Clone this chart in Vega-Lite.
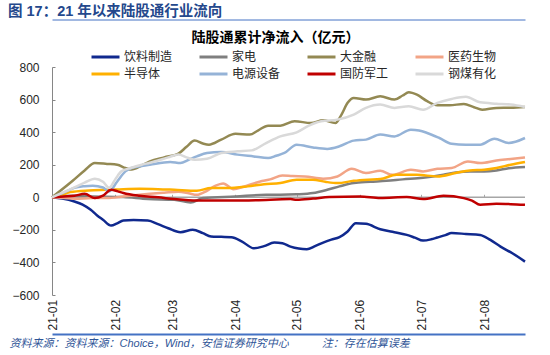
{
  "$schema": "https://vega.github.io/schema/vega-lite/v6.json",
  "width": 473,
  "height": 228,
  "autosize": {"type": "none"},
  "padding": {"left": 52, "top": 67, "right": 25, "bottom": 60},
  "background": "white",
  "title": {
    "text": "图 17：21 年以来陆股通行业流向",
    "anchor": "start",
    "frame": "group",
    "dx": -44,
    "offset": 0,
    "font": "Liberation Sans, Noto Sans CJK SC",
    "fontSize": 14.5,
    "fontWeight": "bold",
    "color": "#24488C"
  },
  "config": {
    "font": "Liberation Sans, Noto Sans CJK SC",
    "view": {"stroke": null},
    "axis": {"grid": false, "labelColor": "#262626", "labelFont": "Liberation Sans, Noto Sans CJK SC", "titleFont": "Liberation Sans, Noto Sans CJK SC"}
  },
  "datasets": {
    "zero": [{"d": "2021-01-01", "d2": "2021-08-21", "v": 0}],
    "flows": [
      {"s": "饮料制造", "d": "2021-01-01", "v": 0},
      {"s": "饮料制造", "d": "2021-01-06", "v": -8},
      {"s": "饮料制造", "d": "2021-01-12", "v": -26},
      {"s": "饮料制造", "d": "2021-01-16", "v": -45},
      {"s": "饮料制造", "d": "2021-01-20", "v": -77},
      {"s": "饮料制造", "d": "2021-01-23", "v": -110},
      {"s": "饮料制造", "d": "2021-01-26", "v": -138},
      {"s": "饮料制造", "d": "2021-01-30", "v": -174},
      {"s": "饮料制造", "d": "2021-02-02", "v": -160},
      {"s": "饮料制造", "d": "2021-02-05", "v": -143},
      {"s": "饮料制造", "d": "2021-02-10", "v": -140},
      {"s": "饮料制造", "d": "2021-02-17", "v": -143},
      {"s": "饮料制造", "d": "2021-02-22", "v": -165},
      {"s": "饮料制造", "d": "2021-02-27", "v": -190},
      {"s": "饮料制造", "d": "2021-03-05", "v": -214},
      {"s": "饮料制造", "d": "2021-03-11", "v": -200},
      {"s": "饮料制造", "d": "2021-03-16", "v": -220},
      {"s": "饮料制造", "d": "2021-03-20", "v": -241},
      {"s": "饮料制造", "d": "2021-03-25", "v": -243},
      {"s": "饮料制造", "d": "2021-03-30", "v": -245},
      {"s": "饮料制造", "d": "2021-04-04", "v": -270},
      {"s": "饮料制造", "d": "2021-04-10", "v": -313},
      {"s": "饮料制造", "d": "2021-04-15", "v": -300},
      {"s": "饮料制造", "d": "2021-04-20", "v": -278},
      {"s": "饮料制造", "d": "2021-04-24", "v": -282},
      {"s": "饮料制造", "d": "2021-04-28", "v": -303},
      {"s": "饮料制造", "d": "2021-05-02", "v": -315},
      {"s": "饮料制造", "d": "2021-05-06", "v": -319},
      {"s": "饮料制造", "d": "2021-05-10", "v": -300},
      {"s": "饮料制造", "d": "2021-05-14", "v": -278},
      {"s": "饮料制造", "d": "2021-05-18", "v": -260},
      {"s": "饮料制造", "d": "2021-05-22", "v": -245},
      {"s": "饮料制造", "d": "2021-05-26", "v": -210},
      {"s": "饮料制造", "d": "2021-05-30", "v": -159},
      {"s": "饮料制造", "d": "2021-06-04", "v": -163},
      {"s": "饮料制造", "d": "2021-06-11", "v": -196},
      {"s": "饮料制造", "d": "2021-06-17", "v": -212},
      {"s": "饮料制造", "d": "2021-06-24", "v": -231},
      {"s": "饮料制造", "d": "2021-06-28", "v": -248},
      {"s": "饮料制造", "d": "2021-07-02", "v": -266},
      {"s": "饮料制造", "d": "2021-07-06", "v": -258},
      {"s": "饮料制造", "d": "2021-07-09", "v": -247},
      {"s": "饮料制造", "d": "2021-07-13", "v": -232},
      {"s": "饮料制造", "d": "2021-07-16", "v": -220},
      {"s": "饮料制造", "d": "2021-07-23", "v": -225},
      {"s": "饮料制造", "d": "2021-07-30", "v": -231},
      {"s": "饮料制造", "d": "2021-08-04", "v": -262},
      {"s": "饮料制造", "d": "2021-08-09", "v": -303},
      {"s": "饮料制造", "d": "2021-08-15", "v": -345},
      {"s": "饮料制造", "d": "2021-08-21", "v": -395},

      {"s": "家电", "d": "2021-01-01", "v": 0},
      {"s": "家电", "d": "2021-01-11", "v": 9},
      {"s": "家电", "d": "2021-01-21", "v": 5},
      {"s": "家电", "d": "2021-02-05", "v": 1},
      {"s": "家电", "d": "2021-02-17", "v": -11},
      {"s": "家电", "d": "2021-03-02", "v": -15},
      {"s": "家电", "d": "2021-03-10", "v": -32},
      {"s": "家电", "d": "2021-03-16", "v": -5},
      {"s": "家电", "d": "2021-04-01", "v": 5},
      {"s": "家电", "d": "2021-04-16", "v": 15},
      {"s": "家电", "d": "2021-04-23", "v": 15},
      {"s": "家电", "d": "2021-05-01", "v": 18},
      {"s": "家电", "d": "2021-05-09", "v": 26},
      {"s": "家电", "d": "2021-05-16", "v": 46},
      {"s": "家电", "d": "2021-05-22", "v": 67},
      {"s": "家电", "d": "2021-05-29", "v": 88},
      {"s": "家电", "d": "2021-06-06", "v": 95},
      {"s": "家电", "d": "2021-06-14", "v": 101},
      {"s": "家电", "d": "2021-06-22", "v": 110},
      {"s": "家电", "d": "2021-07-02", "v": 120},
      {"s": "家电", "d": "2021-07-12", "v": 138},
      {"s": "家电", "d": "2021-07-18", "v": 152},
      {"s": "家电", "d": "2021-07-25", "v": 159},
      {"s": "家电", "d": "2021-08-01", "v": 159},
      {"s": "家电", "d": "2021-08-07", "v": 165},
      {"s": "家电", "d": "2021-08-13", "v": 178},
      {"s": "家电", "d": "2021-08-21", "v": 186},

      {"s": "大金融", "d": "2021-01-01", "v": 0},
      {"s": "大金融", "d": "2021-01-11", "v": 100},
      {"s": "大金融", "d": "2021-01-17", "v": 165},
      {"s": "大金融", "d": "2021-01-22", "v": 210},
      {"s": "大金融", "d": "2021-01-28", "v": 205},
      {"s": "大金融", "d": "2021-02-02", "v": 200},
      {"s": "大金融", "d": "2021-02-06", "v": 180},
      {"s": "大金融", "d": "2021-02-09", "v": 170},
      {"s": "大金融", "d": "2021-02-14", "v": 195},
      {"s": "大金融", "d": "2021-02-18", "v": 220},
      {"s": "大金融", "d": "2021-02-25", "v": 245},
      {"s": "大金融", "d": "2021-03-04", "v": 268},
      {"s": "大金融", "d": "2021-03-08", "v": 310},
      {"s": "大金融", "d": "2021-03-12", "v": 348},
      {"s": "大金融", "d": "2021-03-16", "v": 330},
      {"s": "大金融", "d": "2021-03-19", "v": 323},
      {"s": "大金融", "d": "2021-03-25", "v": 354},
      {"s": "大金融", "d": "2021-04-01", "v": 390},
      {"s": "大金融", "d": "2021-04-08", "v": 385},
      {"s": "大金融", "d": "2021-04-12", "v": 410},
      {"s": "大金融", "d": "2021-04-17", "v": 440},
      {"s": "大金融", "d": "2021-04-23", "v": 440},
      {"s": "大金融", "d": "2021-04-30", "v": 467},
      {"s": "大金融", "d": "2021-05-08", "v": 456},
      {"s": "大金融", "d": "2021-05-14", "v": 473},
      {"s": "大金融", "d": "2021-05-20", "v": 456},
      {"s": "大金融", "d": "2021-05-23", "v": 508},
      {"s": "大金融", "d": "2021-05-26", "v": 580},
      {"s": "大金融", "d": "2021-05-29", "v": 610},
      {"s": "大金融", "d": "2021-06-04", "v": 600},
      {"s": "大金融", "d": "2021-06-11", "v": 620},
      {"s": "大金融", "d": "2021-06-18", "v": 600},
      {"s": "大金融", "d": "2021-06-22", "v": 625},
      {"s": "大金融", "d": "2021-06-25", "v": 645},
      {"s": "大金融", "d": "2021-06-29", "v": 630},
      {"s": "大金融", "d": "2021-07-04", "v": 590},
      {"s": "大金融", "d": "2021-07-09", "v": 565},
      {"s": "大金融", "d": "2021-07-15", "v": 565},
      {"s": "大金融", "d": "2021-07-22", "v": 573},
      {"s": "大金融", "d": "2021-07-27", "v": 553},
      {"s": "大金融", "d": "2021-07-31", "v": 538},
      {"s": "大金融", "d": "2021-08-07", "v": 549},
      {"s": "大金融", "d": "2021-08-14", "v": 550},
      {"s": "大金融", "d": "2021-08-21", "v": 555},

      {"s": "医药生物", "d": "2021-01-01", "v": 0},
      {"s": "医药生物", "d": "2021-01-07", "v": -5},
      {"s": "医药生物", "d": "2021-01-12", "v": -9},
      {"s": "医药生物", "d": "2021-01-21", "v": -5},
      {"s": "医药生物", "d": "2021-01-28", "v": -5},
      {"s": "医药生物", "d": "2021-02-05", "v": 5},
      {"s": "医药生物", "d": "2021-02-13", "v": 15},
      {"s": "医药生物", "d": "2021-02-18", "v": 21},
      {"s": "医药生物", "d": "2021-02-25", "v": 28},
      {"s": "医药生物", "d": "2021-03-04", "v": 34},
      {"s": "医药生物", "d": "2021-03-09", "v": 25},
      {"s": "医药生物", "d": "2021-03-13", "v": 15},
      {"s": "医药生物", "d": "2021-03-18", "v": 40},
      {"s": "医药生物", "d": "2021-03-22", "v": 70},
      {"s": "医药生物", "d": "2021-03-26", "v": 85},
      {"s": "医药生物", "d": "2021-03-31", "v": 50},
      {"s": "医药生物", "d": "2021-04-05", "v": 65},
      {"s": "医药生物", "d": "2021-04-10", "v": 85},
      {"s": "医药生物", "d": "2021-04-14", "v": 100},
      {"s": "医药生物", "d": "2021-04-18", "v": 110},
      {"s": "医药生物", "d": "2021-04-24", "v": 134},
      {"s": "医药生物", "d": "2021-04-29", "v": 130},
      {"s": "医药生物", "d": "2021-05-05", "v": 128},
      {"s": "医药生物", "d": "2021-05-14", "v": 114},
      {"s": "医药生物", "d": "2021-05-21", "v": 128},
      {"s": "医药生物", "d": "2021-05-28", "v": 175},
      {"s": "医药生物", "d": "2021-06-04", "v": 149},
      {"s": "医药生物", "d": "2021-06-11", "v": 163},
      {"s": "医药生物", "d": "2021-06-17", "v": 138},
      {"s": "医药生物", "d": "2021-06-26", "v": 169},
      {"s": "医药生物", "d": "2021-07-02", "v": 159},
      {"s": "医药生物", "d": "2021-07-09", "v": 175},
      {"s": "医药生物", "d": "2021-07-16", "v": 180},
      {"s": "医药生物", "d": "2021-07-24", "v": 220},
      {"s": "医药生物", "d": "2021-07-30", "v": 210},
      {"s": "医药生物", "d": "2021-08-07", "v": 226},
      {"s": "医药生物", "d": "2021-08-14", "v": 235},
      {"s": "医药生物", "d": "2021-08-21", "v": 245},

      {"s": "半导体", "d": "2021-01-01", "v": 0},
      {"s": "半导体", "d": "2021-01-06", "v": 15},
      {"s": "半导体", "d": "2021-01-10", "v": 32},
      {"s": "半导体", "d": "2021-01-19", "v": 42},
      {"s": "半导体", "d": "2021-01-28", "v": 46},
      {"s": "半导体", "d": "2021-02-05", "v": 50},
      {"s": "半导体", "d": "2021-02-13", "v": 52},
      {"s": "半导体", "d": "2021-02-22", "v": 50},
      {"s": "半导体", "d": "2021-03-02", "v": 46},
      {"s": "半导体", "d": "2021-03-13", "v": 40},
      {"s": "半导体", "d": "2021-03-20", "v": 57},
      {"s": "半导体", "d": "2021-03-28", "v": 57},
      {"s": "半导体", "d": "2021-04-07", "v": 67},
      {"s": "半导体", "d": "2021-04-15", "v": 80},
      {"s": "半导体", "d": "2021-04-23", "v": 88},
      {"s": "半导体", "d": "2021-05-01", "v": 108},
      {"s": "半导体", "d": "2021-05-09", "v": 108},
      {"s": "半导体", "d": "2021-05-15", "v": 95},
      {"s": "半导体", "d": "2021-05-21", "v": 87},
      {"s": "半导体", "d": "2021-05-29", "v": 101},
      {"s": "半导体", "d": "2021-06-05", "v": 108},
      {"s": "半导体", "d": "2021-06-11", "v": 112},
      {"s": "半导体", "d": "2021-06-19", "v": 138},
      {"s": "半导体", "d": "2021-06-29", "v": 138},
      {"s": "半导体", "d": "2021-07-09", "v": 128},
      {"s": "半导体", "d": "2021-07-18", "v": 149},
      {"s": "半导体", "d": "2021-07-25", "v": 165},
      {"s": "半导体", "d": "2021-08-01", "v": 169},
      {"s": "半导体", "d": "2021-08-07", "v": 180},
      {"s": "半导体", "d": "2021-08-14", "v": 200},
      {"s": "半导体", "d": "2021-08-21", "v": 217},

      {"s": "电源设备", "d": "2021-01-01", "v": 0},
      {"s": "电源设备", "d": "2021-01-07", "v": 30},
      {"s": "电源设备", "d": "2021-01-12", "v": 58},
      {"s": "电源设备", "d": "2021-01-17", "v": 68},
      {"s": "电源设备", "d": "2021-01-21", "v": 71},
      {"s": "电源设备", "d": "2021-01-26", "v": 60},
      {"s": "电源设备", "d": "2021-01-29", "v": 36},
      {"s": "电源设备", "d": "2021-02-02", "v": 97},
      {"s": "电源设备", "d": "2021-02-06", "v": 159},
      {"s": "电源设备", "d": "2021-02-09", "v": 180},
      {"s": "电源设备", "d": "2021-02-14", "v": 192},
      {"s": "电源设备", "d": "2021-02-18", "v": 200},
      {"s": "电源设备", "d": "2021-02-28", "v": 217},
      {"s": "电源设备", "d": "2021-03-05", "v": 210},
      {"s": "电源设备", "d": "2021-03-09", "v": 230},
      {"s": "电源设备", "d": "2021-03-13", "v": 251},
      {"s": "电源设备", "d": "2021-03-18", "v": 272},
      {"s": "电源设备", "d": "2021-03-25", "v": 278},
      {"s": "电源设备", "d": "2021-04-02", "v": 262},
      {"s": "电源设备", "d": "2021-04-10", "v": 251},
      {"s": "电源设备", "d": "2021-04-17", "v": 241},
      {"s": "电源设备", "d": "2021-04-21", "v": 255},
      {"s": "电源设备", "d": "2021-04-25", "v": 272},
      {"s": "电源设备", "d": "2021-05-01", "v": 323},
      {"s": "电源设备", "d": "2021-05-09", "v": 306},
      {"s": "电源设备", "d": "2021-05-16", "v": 297},
      {"s": "电源设备", "d": "2021-05-22", "v": 313},
      {"s": "电源设备", "d": "2021-05-29", "v": 348},
      {"s": "电源设备", "d": "2021-06-04", "v": 354},
      {"s": "电源设备", "d": "2021-06-11", "v": 385},
      {"s": "电源设备", "d": "2021-06-18", "v": 374},
      {"s": "电源设备", "d": "2021-06-26", "v": 415},
      {"s": "电源设备", "d": "2021-06-30", "v": 410},
      {"s": "电源设备", "d": "2021-07-04", "v": 395},
      {"s": "电源设备", "d": "2021-07-10", "v": 364},
      {"s": "电源设备", "d": "2021-07-16", "v": 329},
      {"s": "电源设备", "d": "2021-07-23", "v": 323},
      {"s": "电源设备", "d": "2021-07-30", "v": 323},
      {"s": "电源设备", "d": "2021-08-06", "v": 360},
      {"s": "电源设备", "d": "2021-08-13", "v": 333},
      {"s": "电源设备", "d": "2021-08-21", "v": 364},

      {"s": "国防军工", "d": "2021-01-01", "v": 0},
      {"s": "国防军工", "d": "2021-01-07", "v": 5},
      {"s": "国防军工", "d": "2021-01-12", "v": 9},
      {"s": "国防军工", "d": "2021-01-17", "v": 21},
      {"s": "国防军工", "d": "2021-01-22", "v": -5},
      {"s": "国防军工", "d": "2021-01-26", "v": 10},
      {"s": "国防军工", "d": "2021-01-30", "v": 46},
      {"s": "国防军工", "d": "2021-02-02", "v": 38},
      {"s": "国防军工", "d": "2021-02-05", "v": 26},
      {"s": "国防军工", "d": "2021-02-13", "v": 9},
      {"s": "国防军工", "d": "2021-02-22", "v": 0},
      {"s": "国防军工", "d": "2021-03-02", "v": -11},
      {"s": "国防军工", "d": "2021-03-13", "v": -20},
      {"s": "国防军工", "d": "2021-03-30", "v": -20},
      {"s": "国防军工", "d": "2021-04-11", "v": -18},
      {"s": "国防军工", "d": "2021-04-28", "v": -11},
      {"s": "国防军工", "d": "2021-05-01", "v": -15},
      {"s": "国防军工", "d": "2021-05-09", "v": -8},
      {"s": "国防军工", "d": "2021-05-17", "v": 1},
      {"s": "国防军工", "d": "2021-06-01", "v": 5},
      {"s": "国防军工", "d": "2021-06-11", "v": -5},
      {"s": "国防军工", "d": "2021-06-24", "v": 1},
      {"s": "国防军工", "d": "2021-07-02", "v": -11},
      {"s": "国防军工", "d": "2021-07-12", "v": 9},
      {"s": "国防军工", "d": "2021-07-22", "v": -5},
      {"s": "国防军工", "d": "2021-07-26", "v": -20},
      {"s": "国防军工", "d": "2021-07-30", "v": -46},
      {"s": "国防军工", "d": "2021-08-07", "v": -40},
      {"s": "国防军工", "d": "2021-08-14", "v": -42},
      {"s": "国防军工", "d": "2021-08-21", "v": -46},

      {"s": "钢煤有化", "d": "2021-01-01", "v": 0},
      {"s": "钢煤有化", "d": "2021-01-11", "v": 55},
      {"s": "钢煤有化", "d": "2021-01-17", "v": 90},
      {"s": "钢煤有化", "d": "2021-01-22", "v": 114},
      {"s": "钢煤有化", "d": "2021-01-26", "v": 95},
      {"s": "钢煤有化", "d": "2021-01-29", "v": 58},
      {"s": "钢煤有化", "d": "2021-02-01", "v": 110},
      {"s": "钢煤有化", "d": "2021-02-04", "v": 159},
      {"s": "钢煤有化", "d": "2021-02-09", "v": 181},
      {"s": "钢煤有化", "d": "2021-02-14", "v": 200},
      {"s": "钢煤有化", "d": "2021-02-18", "v": 212},
      {"s": "钢煤有化", "d": "2021-02-27", "v": 245},
      {"s": "钢煤有化", "d": "2021-03-04", "v": 262},
      {"s": "钢煤有化", "d": "2021-03-08", "v": 245},
      {"s": "钢煤有化", "d": "2021-03-12", "v": 231},
      {"s": "钢煤有化", "d": "2021-03-18", "v": 237},
      {"s": "钢煤有化", "d": "2021-03-25", "v": 272},
      {"s": "钢煤有化", "d": "2021-04-02", "v": 282},
      {"s": "钢煤有化", "d": "2021-04-09", "v": 288},
      {"s": "钢煤有化", "d": "2021-04-16", "v": 333},
      {"s": "钢煤有化", "d": "2021-04-23", "v": 374},
      {"s": "钢煤有化", "d": "2021-05-01", "v": 399},
      {"s": "钢煤有化", "d": "2021-05-07", "v": 440},
      {"s": "钢煤有化", "d": "2021-05-13", "v": 467},
      {"s": "钢煤有化", "d": "2021-05-21", "v": 477},
      {"s": "钢煤有化", "d": "2021-05-29", "v": 508},
      {"s": "钢煤有化", "d": "2021-06-04", "v": 549},
      {"s": "钢煤有化", "d": "2021-06-11", "v": 569},
      {"s": "钢煤有化", "d": "2021-06-18", "v": 549},
      {"s": "钢煤有化", "d": "2021-06-25", "v": 559},
      {"s": "钢煤有化", "d": "2021-07-02", "v": 538},
      {"s": "钢煤有化", "d": "2021-07-09", "v": 580},
      {"s": "钢煤有化", "d": "2021-07-16", "v": 604},
      {"s": "钢煤有化", "d": "2021-07-23", "v": 617},
      {"s": "钢煤有化", "d": "2021-07-30", "v": 583},
      {"s": "钢煤有化", "d": "2021-08-07", "v": 575},
      {"s": "钢煤有化", "d": "2021-08-14", "v": 570},
      {"s": "钢煤有化", "d": "2021-08-21", "v": 555}
    ]
  },
  "encoding": {
    "y": {
      "field": "v",
      "type": "quantitative",
      "scale": {"domain": [-600, 800], "nice": false, "zero": false},
      "axis": {
        "values": [-600, -400, -200, 0, 200, 400, 600, 800],
        "domainColor": "#868686",
        "tickColor": "#868686",
        "tickSize": -3,
        "labelPadding": 16,
        "labelFontSize": 12,
        "labelColor": "#262626",
        "grid": false,
        "title": "陆股通累计净流入（亿元）",
        "titleAngle": 0,
        "titleX": 223,
        "titleY": -30,
        "titleAlign": "center",
        "titleBaseline": "middle",
        "titleFontSize": 14,
        "titleFontWeight": "bold",
        "titleColor": "#000000"
      }
    }
  },
  "layer": [
    {
      "data": {"name": "zero"},
      "mark": {"type": "rule", "color": "#A6A6A6", "strokeWidth": 1.5},
      "encoding": {
        "x": {
          "field": "d",
          "type": "temporal",
          "scale": {"type": "utc", "domain": [1609459200000, 1629504000000]},
          "axis": {
            "orient": "top",
            "offset": -130.3,
            "domain": false,
            "labels": false,
            "ticks": true,
            "tickSize": 3,
            "tickColor": "#A6A6A6",
            "tickCount": {"interval": "month", "step": 1},
            "grid": false,
            "title": null
          }
        },
        "x2": {"field": "d2"}
      }
    },
    {
      "data": {"name": "zero"},
      "mark": {"type": "rule", "opacity": 0},
      "encoding": {
        "x": {
          "field": "d",
          "type": "temporal",
          "axis": {
            "orient": "top",
            "offset": 47.5,
            "domain": true,
            "domainColor": "#4472C4",
            "domainWidth": 1,
            "labels": false,
            "ticks": false,
            "grid": false,
            "title": null
          }
        },
        "x2": {"field": "d2"}
      }
    },
    {
      "data": {"name": "flows"},
      "mark": {"type": "line", "strokeWidth": 2.5, "interpolate": "monotone"},
      "encoding": {
        "x": {
          "field": "d",
          "type": "temporal",
          "axis": {
            "orient": "bottom",
            "offset": 39,
            "domainColor": "#4472C4",
            "domainWidth": 2,
            "ticks": false,
            "labelAngle": -90,
            "labelAlign": "left",
            "labelBaseline": "middle",
            "labelPadding": -4,
            "labelFlush": false,
            "labelOverlap": false,
            "labelFontSize": 12,
            "labelColor": "#262626",
            "labelExpr": "utcFormat(datum.value, '%y-%m')",
            "tickCount": {"interval": "month", "step": 1},
            "grid": false,
            "title": "资料来源：资料来源：Choice，Wind，安信证券研究中心　　　注：存在估算误差",
            "titleX": -43,
            "titleY": 9,
            "titleAlign": "left",
            "titleBaseline": "middle",
            "titleFontStyle": "italic",
            "titleFontWeight": "normal",
            "titleFontSize": 11,
            "titleColor": "#2F5597"
          }
        },
        "color": {
          "field": "s",
          "type": "nominal",
          "scale": {
            "domain": ["饮料制造", "家电", "大金融", "医药生物", "半导体", "电源设备", "国防军工", "钢煤有化"],
            "range": ["#10298E", "#7F7F7F", "#938953", "#F2A486", "#FFB000", "#95B3D7", "#C00000", "#D9D9D9"]
          },
          "legend": {
            "orient": "none",
            "legendX": 38,
            "legendY": -16,
            "direction": "horizontal",
            "columns": 4,
            "title": null,
            "padding": 0,
            "symbolType": "stroke",
            "symbolSize": 784,
            "symbolStrokeWidth": 3,
            "clipHeight": 12,
            "labelFontSize": 12,
            "labelOffset": 3,
            "labelColor": "#262626",
            "labelFont": "Liberation Sans, Noto Sans CJK SC",
            "columnPadding": 25,
            "rowPadding": 5
          }
        }
      }
    }
  ],
  "resolve": {"axis": {"x": "independent"}}
}
